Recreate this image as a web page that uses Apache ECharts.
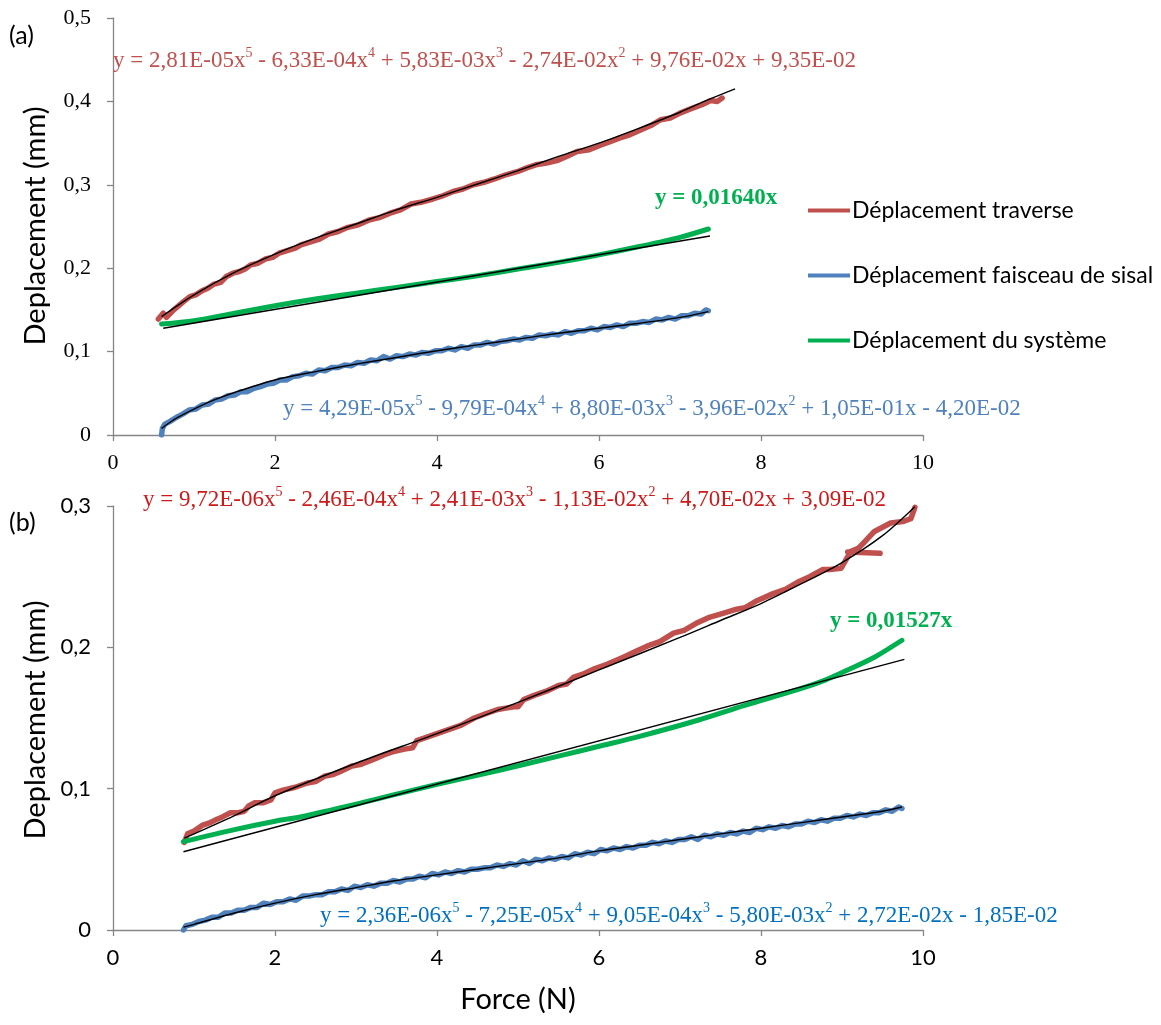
<!DOCTYPE html>
<html>
<head>
<meta charset="utf-8">
<script src="https://cdn.jsdelivr.net/npm/echarts@6/dist/echarts.min.js"></script>
<style>
html,body{margin:0;padding:0;background:#fff;}
#chart{width:1161px;height:1025px;}
</style>
</head>
<body>
<div id="chart"></div>
<script>
// ---------- DATA ----------
const seriesNames = ['Déplacement traverse', 'Déplacement faisceau de sisal', 'Déplacement du système'];
const xTicks = [0, 2, 4, 6, 8, 10];

// (a) top panel
const aTraverse = [[0.56,0.139],[0.62,0.146],[0.66,0.141],[0.75,0.150],[0.87,0.160],[0.95,0.166],[1.02,0.168],[1.10,0.173],[1.17,0.176],[1.25,0.181],[1.33,0.183],[1.40,0.190],[1.48,0.194],[1.56,0.196],[1.63,0.199],[1.70,0.204],[1.79,0.206],[1.88,0.211],[1.97,0.213],[2.05,0.218],[2.15,0.221],[2.25,0.224],[2.32,0.228],[2.45,0.232],[2.55,0.235],[2.66,0.241],[2.78,0.244],[2.90,0.249],[3.03,0.252],[3.17,0.258],[3.30,0.261],[3.42,0.266],[3.55,0.270],[3.68,0.277],[3.80,0.279],[3.95,0.283],[4.05,0.286],[4.20,0.292],[4.32,0.295],[4.45,0.300],[4.58,0.303],[4.71,0.307],[4.85,0.312],[5.00,0.316],[5.10,0.320],[5.22,0.324],[5.35,0.326],[5.48,0.329],[5.60,0.334],[5.73,0.340],[5.88,0.342],[6.00,0.347],[6.12,0.351],[6.25,0.356],[6.38,0.360],[6.52,0.366],[6.64,0.371],[6.76,0.378],[6.88,0.380],[7.00,0.386],[7.13,0.391],[7.27,0.396],[7.38,0.401],[7.46,0.400],[7.52,0.404]];
const aTraverseFit = [[0.60,0.142],[1.00,0.168],[1.50,0.195],[2.00,0.217],[2.50,0.236],[3.00,0.253],[3.50,0.270],[4.00,0.285],[4.50,0.301],[5.00,0.317],[5.50,0.334],[6.00,0.350],[6.50,0.368],[7.00,0.387],[7.30,0.400],[7.68,0.415]];
const aSisal = [[0.60,0.000],[0.61,0.008],[0.64,0.013],[0.70,0.016],[0.78,0.021],[0.86,0.025],[0.94,0.030],[1.02,0.031],[1.10,0.036],[1.18,0.037],[1.26,0.042],[1.34,0.043],[1.42,0.047],[1.50,0.048],[1.58,0.052],[1.66,0.052],[1.74,0.056],[1.82,0.058],[1.90,0.061],[1.98,0.062],[2.06,0.066],[2.14,0.066],[2.22,0.070],[2.30,0.071],[2.38,0.074],[2.46,0.073],[2.54,0.078],[2.62,0.077],[2.70,0.081],[2.78,0.081],[2.86,0.084],[2.94,0.083],[3.02,0.087],[3.10,0.086],[3.18,0.090],[3.26,0.089],[3.34,0.094],[3.42,0.091],[3.50,0.095],[3.58,0.094],[3.66,0.097],[3.74,0.096],[3.82,0.099],[3.90,0.098],[3.98,0.101],[4.06,0.101],[4.14,0.104],[4.22,0.102],[4.30,0.106],[4.38,0.104],[4.46,0.108],[4.54,0.108],[4.62,0.111],[4.70,0.109],[4.78,0.112],[4.86,0.113],[4.94,0.115],[5.02,0.114],[5.10,0.117],[5.18,0.116],[5.26,0.120],[5.34,0.119],[5.42,0.121],[5.50,0.120],[5.58,0.124],[5.66,0.122],[5.74,0.125],[5.82,0.125],[5.90,0.128],[5.98,0.126],[6.06,0.130],[6.14,0.129],[6.22,0.132],[6.30,0.130],[6.38,0.134],[6.46,0.134],[6.54,0.136],[6.62,0.135],[6.70,0.139],[6.78,0.138],[6.86,0.141],[6.94,0.139],[7.02,0.143],[7.10,0.143],[7.18,0.146],[7.26,0.145],[7.32,0.150],[7.35,0.149]];
const aSisalFit = [[0.60,0.008],[0.70,0.015],[0.80,0.021],[1.00,0.031],[1.25,0.042],[1.50,0.051],[2.00,0.066],[2.50,0.076],[3.00,0.085],[3.50,0.093],[4.00,0.101],[4.50,0.108],[5.00,0.115],[5.50,0.122],[6.00,0.128],[6.50,0.134],[7.00,0.141],[7.35,0.148]];
const aSystem = [[0.60,0.133],[1.00,0.137],[1.50,0.146],[2.00,0.155],[2.50,0.163],[3.00,0.170],[3.50,0.177],[4.00,0.184],[4.50,0.191],[5.00,0.199],[5.50,0.207],[6.00,0.216],[6.50,0.226],[7.00,0.237],[7.35,0.247]];
const aSystemFit = [[0.62,0.128],[7.37,0.2386]];

// (b) bottom panel
const bTraverse = [[0.88,0.062],[0.92,0.068],[1.00,0.070],[1.10,0.074],[1.20,0.076],[1.27,0.078],[1.35,0.080],[1.45,0.083],[1.55,0.083],[1.62,0.084],[1.68,0.088],[1.75,0.090],[1.85,0.090],[1.95,0.092],[2.00,0.097],[2.10,0.099],[2.25,0.101],[2.40,0.104],[2.50,0.105],[2.62,0.109],[2.72,0.110],[2.80,0.112],[2.95,0.116],[3.05,0.117],[3.23,0.121],[3.35,0.124],[3.45,0.126],[3.60,0.128],[3.70,0.129],[3.75,0.134],[3.85,0.136],[4.00,0.139],[4.15,0.142],[4.30,0.145],[4.46,0.150],[4.60,0.153],[4.75,0.156],[4.85,0.157],[4.95,0.158],[5.00,0.158],[5.07,0.163],[5.20,0.166],[5.35,0.169],[5.50,0.173],[5.60,0.174],[5.69,0.179],[5.80,0.181],[5.95,0.185],[6.10,0.188],[6.30,0.193],[6.45,0.197],[6.60,0.201],[6.75,0.204],[6.92,0.210],[7.05,0.212],[7.20,0.217],[7.35,0.221],[7.53,0.224],[7.70,0.227],[7.80,0.228],[7.95,0.233],[8.15,0.238],[8.30,0.241],[8.45,0.246],[8.60,0.250],[8.76,0.255],[8.85,0.255],[8.99,0.256],[9.11,0.268],[9.20,0.270],[9.27,0.274],[9.40,0.282],[9.50,0.285],[9.60,0.288],[9.75,0.289],[9.85,0.291],[9.90,0.299],null,[9.07,0.2675],[9.47,0.2665]];
const bTraverseFit = [[0.88,0.065],[1.50,0.081],[2.00,0.095],[3.00,0.118],[4.00,0.139],[5.00,0.161],[6.00,0.184],[7.00,0.207],[7.50,0.219],[8.00,0.231],[8.50,0.245],[9.00,0.260],[9.50,0.279],[9.90,0.2995]];
const bSisal = [[0.87,0.000],[0.90,0.003],[0.98,0.004],[1.06,0.006],[1.14,0.007],[1.22,0.009],[1.30,0.009],[1.38,0.012],[1.46,0.012],[1.54,0.014],[1.62,0.014],[1.70,0.016],[1.78,0.016],[1.86,0.019],[1.94,0.018],[2.02,0.020],[2.10,0.020],[2.18,0.022],[2.26,0.021],[2.34,0.024],[2.42,0.024],[2.50,0.025],[2.58,0.025],[2.66,0.027],[2.74,0.027],[2.82,0.029],[2.90,0.028],[2.98,0.031],[3.06,0.030],[3.14,0.032],[3.22,0.031],[3.30,0.033],[3.38,0.033],[3.46,0.035],[3.54,0.034],[3.62,0.036],[3.70,0.036],[3.78,0.038],[3.86,0.037],[3.94,0.040],[4.02,0.039],[4.10,0.041],[4.18,0.040],[4.26,0.042],[4.34,0.041],[4.42,0.043],[4.50,0.043],[4.58,0.044],[4.66,0.044],[4.74,0.046],[4.82,0.045],[4.90,0.047],[4.98,0.046],[5.06,0.049],[5.14,0.047],[5.22,0.050],[5.30,0.049],[5.38,0.051],[5.46,0.050],[5.54,0.052],[5.62,0.051],[5.70,0.054],[5.78,0.053],[5.86,0.055],[5.94,0.054],[6.02,0.057],[6.10,0.056],[6.18,0.058],[6.26,0.057],[6.34,0.059],[6.42,0.058],[6.50,0.060],[6.58,0.060],[6.66,0.062],[6.74,0.061],[6.82,0.063],[6.90,0.062],[6.98,0.064],[7.06,0.064],[7.14,0.066],[7.22,0.064],[7.30,0.067],[7.38,0.066],[7.46,0.068],[7.54,0.067],[7.62,0.069],[7.70,0.068],[7.78,0.070],[7.86,0.069],[7.94,0.072],[8.02,0.071],[8.10,0.073],[8.18,0.072],[8.26,0.074],[8.34,0.073],[8.42,0.075],[8.50,0.075],[8.58,0.077],[8.66,0.076],[8.74,0.078],[8.82,0.077],[8.90,0.079],[8.98,0.079],[9.06,0.081],[9.14,0.080],[9.22,0.082],[9.30,0.081],[9.38,0.083],[9.46,0.083],[9.54,0.085],[9.62,0.084],[9.70,0.087],[9.74,0.086]];
const bSisalFit = [[0.87,0.002],[1.00,0.004],[1.50,0.012],[2.00,0.019],[2.50,0.025],[3.00,0.030],[3.50,0.035],[4.00,0.039],[4.50,0.043],[5.00,0.047],[5.50,0.051],[6.00,0.056],[6.50,0.060],[7.00,0.064],[7.50,0.068],[8.00,0.072],[8.50,0.076],[9.00,0.080],[9.50,0.084],[9.74,0.087]];
const bSystem = [[0.87,0.0625],[1.50,0.071],[2.00,0.077],[2.31,0.080],[3.00,0.089],[3.54,0.0967],[4.00,0.103],[4.77,0.113],[5.50,0.123],[6.00,0.130],[6.50,0.137],[7.23,0.1486],[7.80,0.159],[8.45,0.170],[8.80,0.177],[9.07,0.184],[9.40,0.193],[9.74,0.205]];
const bSystemFit = [[0.87,0.0554],[9.77,0.1915]];

// equation texts (^n = superscript)
const eqATraverse = 'y = 2,81E-05x^5 - 6,33E-04x^4 + 5,83E-03x^3 - 2,74E-02x^2 + 9,76E-02x + 9,35E-02';
const eqASisal = 'y = 4,29E-05x^5 - 9,79E-04x^4 + 8,80E-03x^3 - 3,96E-02x^2 + 1,05E-01x - 4,20E-02';
const eqBTraverse = 'y = 9,72E-06x^5 - 2,46E-04x^4 + 2,41E-03x^3 - 1,13E-02x^2 + 4,70E-02x + 3,09E-02';
const eqBSisal = 'y = 2,36E-06x^5 - 7,25E-05x^4 + 9,05E-04x^3 - 5,80E-03x^2 + 2,72E-02x - 1,85E-02';
const eqASystem = 'y = 0,01640x';
const eqBSystem = 'y = 0,01527x';

// ---------- STYLE ----------
const RED = '#c0504d', BLUE = '#4f81bd', GREEN = '#00b050';
const SANS = 'Lato, "Open Sans", sans-serif';
const SERIF = '"Liberation Serif", "Times New Roman", serif';
const AXIS = '#868686';

function richEq(s) {
  return s.split(/\^(\d)/).map((part, i) => i % 2 ? '{s|' + part + '}' : (part ? '{n|' + part + '}' : '')).join('');
}
function eqText(x, y, str, color, size) {
  return {
    type: 'text', x: x, y: y, z: 100,
    style: {
      text: richEq(str),
      align: 'left', verticalAlign: 'middle',
      rich: {
        n: {fontFamily: SERIF, fontSize: size, fill: color, color: color, lineHeight: 28, verticalAlign: 'bottom'},
        s: {fontFamily: SERIF, fontSize: Math.round(size * 0.62), fill: color, color: color, lineHeight: 28, verticalAlign: 'top', padding: [2, 0, 0, 0]}
      }
    }
  };
}
function plainText(x, y, str, font, size, color, opts, rot) {
  return {
    type: 'text', x: x, y: y, z: 100, rotation: rot || 0,
    style: Object.assign({text: str, fontFamily: font, fontSize: size, fill: color, align: 'left', verticalAlign: 'middle'}, opts || {})
  };
}

const fmtY = v => v === 0 ? '0' : v.toFixed(1).replace('.', ',');

function xAxis(gridIndex, font) {
  return {
    type: 'value', gridIndex: gridIndex, min: 0, max: 10, interval: 2,
    axisLine: {lineStyle: {color: AXIS, width: 1.3}},
    axisTick: {show: true, length: 6, inside: false, lineStyle: {color: AXIS, width: 1.3}},
    splitLine: {show: false},
    axisLabel: {margin: 17, color: '#000', fontFamily: font, fontSize: 22}
  };
}
function yAxis(gridIndex, max, font) {
  return {
    type: 'value', gridIndex: gridIndex, min: 0, max: max, interval: 0.1,
    axisLine: {show: true, lineStyle: {color: AXIS, width: 1.3}},
    axisTick: {show: true, length: 6, inside: false, lineStyle: {color: AXIS, width: 1.3}},
    splitLine: {show: false},
    axisLabel: {margin: 22, color: '#000', fontFamily: font, fontSize: 22, formatter: fmtY}
  };
}
function dataLine(name, data, color, idx, w, smooth) {
  return {
    name: name, type: 'line', xAxisIndex: idx, yAxisIndex: idx, data: data,
    showSymbol: false, symbol: 'none', connectNulls: false, color: color, smooth: smooth || false,
    lineStyle: {color: color, width: w || 5, cap: 'round', join: 'round'}, z: 2, animation: false, silent: true
  };
}
function fitLine(data, idx) {
  return {
    name: 'fit', type: 'line', xAxisIndex: idx, yAxisIndex: idx, data: data,
    showSymbol: false, symbol: 'none', smooth: 0.3, color: '#000',
    lineStyle: {color: '#000', width: 1.4}, z: 5, animation: false, silent: true
  };
}

const chart = echarts.init(document.getElementById('chart'), null, {renderer: 'canvas'});
chart.setOption({
  backgroundColor: '#fff',
  animation: false,
  grid: [
    {left: 113, top: 18, width: 810, height: 417, containLabel: false},
    {left: 113, top: 506, width: 810, height: 424, containLabel: false}
  ],
  xAxis: [xAxis(0, SERIF), xAxis(1, SANS)],
  yAxis: [yAxis(0, 0.5, SERIF), yAxis(1, 0.3, SANS)],
  legend: {
    data: seriesNames, orient: 'vertical', left: 803, top: 194, itemGap: 42,
    icon: 'rect', itemWidth: 42, itemHeight: 4,
    textStyle: {fontFamily: SANS, fontSize: 23, color: '#000', padding: [0, 0, 0, -3]},
    selectedMode: false
  },
  series: [
    dataLine(seriesNames[0], aTraverse, RED, 0, 5.5),
    dataLine(seriesNames[1], aSisal, BLUE, 0, 5.5),
    dataLine(seriesNames[2], aSystem, GREEN, 0, 5, 0.3),
    fitLine(aTraverseFit, 0), fitLine(aSisalFit, 0), fitLine(aSystemFit, 0),
    dataLine(seriesNames[0], bTraverse, RED, 1, 5.5),
    dataLine(seriesNames[1], bSisal, BLUE, 1, 5.5),
    dataLine(seriesNames[2], bSystem, GREEN, 1, 5, 0.3),
    fitLine(bTraverseFit, 1), fitLine(bSisalFit, 1), fitLine(bSystemFit, 1)
  ],
  graphic: [
    plainText(9, 36, '(a)', SANS, 25, '#000'),
    plainText(9, 523, '(b)', SANS, 25, '#000'),
    plainText(36, 226, 'Deplacement (mm)', SANS, 29, '#000', {align: 'center'}, Math.PI / 2),
    plainText(36, 720, 'Deplacement (mm)', SANS, 29, '#000', {align: 'center'}, Math.PI / 2),
    plainText(518, 1000, 'Force (N)', SANS, 29, '#000', {align: 'center'}),
    eqText(113, 58, eqATraverse, RED, 23),
    eqText(283, 406, eqASisal, BLUE, 23),
    eqText(143, 497, eqBTraverse, '#cc1a1a', 23),
    eqText(320, 913, eqBSisal, '#0070c0', 23),
    plainText(655, 198, eqASystem, SERIF, 23, GREEN, {fontWeight: 'bold'}),
    plainText(830, 621, eqBSystem, SERIF, 23, GREEN, {fontWeight: 'bold'})
  ]
});
</script>
</body>
</html>
